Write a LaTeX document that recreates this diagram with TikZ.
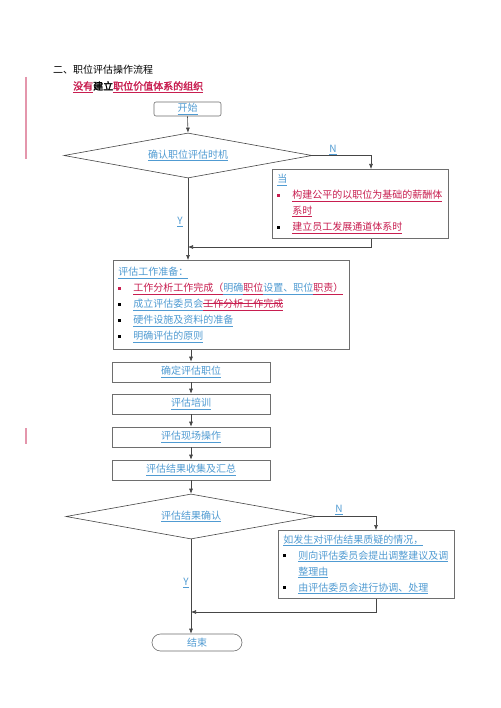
\documentclass[tikz,border=0pt]{standalone}
\usepackage{fontspec}
\setmainfont{Noto Sans CJK SC}[AutoFakeBold=2]
\usetikzlibrary{shapes.geometric,arrows.meta,calc}
\definecolor{cblue}{RGB}{80,155,210}
\definecolor{cred}{RGB}{200,30,80}
\definecolor{cline}{RGB}{70,70,70}
\definecolor{cbox}{RGB}{110,110,110}
\definecolor{cpink}{RGB}{228,150,172}
\newcommand\bu[1]{\textcolor{cblue}{\underline{#1}}}
\newcommand\rd[1]{\textcolor{cred}{\underline{#1}}}
\newcommand\blt[1][black]{\makebox[15pt][l]{\textcolor{#1}{\rule[2pt]{3pt}{3pt}}}}
\newcommand\strk[1]{\setbox0\hbox{#1}\rlap{\rule[3.6pt]{\wd0}{0.5pt}}\box0}
\begin{document}
\begin{tikzpicture}[x=1pt,y=-1pt,
  font=\fontsize{10pt}{16pt}\selectfont,
  box/.style={draw=cbox, line width=0.6pt, rectangle, inner sep=0pt},
  tbox/.style={draw=cbox, line width=0.6pt, rectangle, inner xsep=5pt, inner ysep=3pt, align=left, anchor=north west},
  dia/.style={draw=cline, line width=0.6pt, diamond, inner sep=0pt, aspect=5.5},
  conn/.style={draw=cline, line width=0.6pt},
  arr/.style={conn, -{Latex[length=5pt,width=4pt]}},
  lbl/.style={inner sep=0pt}]
\fill[white] (0,0) rectangle (500,708);
\useasboundingbox (0,0) rectangle (500,708);

% margin marks
\draw[cpink, line width=1.5pt] (26,77) -- (26,159);
\draw[cpink, line width=1.5pt] (26,428) -- (26,444);

% titles
\node[lbl, anchor=west] (t1) at (53,70) {二、职位评估操作流程};
\node[lbl, anchor=west] (t2) at (73,87) {\bfseries\rd{没有}建立\rd{职位价值体系的组织}};

% start
\node[box, rounded corners=2pt, minimum width=67pt, minimum height=14pt] (s) at (187.5,109) {\bu{开始}};

% decision 1
\node[dia, minimum width=248pt, minimum height=45pt] (d1) at (188,155.5) {\bu{确认职位评估时机}};

\node[tbox, minimum width=176pt, minimum height=69pt, text width=166pt] (r1) at (272,169) {%
\bu{当}\\
\blt[cred]\rd{构建公平的以职位为基础的薪酬体}\\
\hspace*{15pt}\rd{系时}\\
\blt\rd{建立员工发展通道体系时}};

\node[lbl] (n1) at (333,150) {\bu{N}};
\node[lbl] (y1) at (180,222) {\bu{Y}};

% preparation
\node[tbox, minimum width=236pt, minimum height=89pt, text width=226pt] (p) at (113,260) {%
\bu{评估工作准备：}\\
\blt[cred]\rd{工作分析工作完成（}\bu{明确}\rd{职位}\bu{设置、职位}\rd{职责）}\\
\blt\bu{成立评估委员会}\textcolor{cred}{\strk{\underline{工作分析工作完成}}}\\
\blt\bu{硬件设施及资料的准备}\\
\blt\bu{明确评估的原则}};

% steps
\node[box, minimum width=158pt, minimum height=20pt] (b2) at (191,372) {\bu{确定评估职位}};
\node[box, minimum width=158pt, minimum height=20pt] (b3) at (191,404) {\bu{评估培训}};
\node[box, minimum width=158pt, minimum height=20pt] (b4) at (191,437) {\bu{评估现场操作}};
\node[box, minimum width=158pt, minimum height=20pt] (b5) at (191,470) {\bu{评估结果收集及汇总}};

% decision 2
\node[dia, minimum width=250pt, minimum height=45pt] (d2) at (191,516.5) {\bu{评估结果确认}};

\node[tbox, minimum width=176pt, minimum height=68pt, text width=166pt] (r2) at (278,530) {%
\bu{如发生对评估结果质疑的情况，}\\
\blt\bu{则向评估委员会提出调整建议及调}\\
\hspace*{15pt}\bu{整理由}\\
\blt\bu{由评估委员会进行协调、处理}};

\node[lbl] (n2) at (339,510) {\bu{N}};
\node[lbl] (y2) at (186,583) {\bu{Y}};

% end
\node[box, rounded corners=8.5pt, minimum width=90pt, minimum height=17pt] (e) at (197,642.5) {\textcolor{cblue}{结束}};

% connectors
\coordinate (m1) at (188,247);
\coordinate (m2) at (191,612);
\draw[arr] (s.south) -- (d1.north);
\draw[arr] (d1.east) -| ($(r1.north west)+(99,0)$);
\draw[arr] ($(r1.south west)+(99,0)$) |- (m1);
\draw[arr] (d1.south) -- (d1.south |- p.north);
\draw[arr] (b2.north |- p.south) -- (b2.north);
\draw[arr] (b2.south) -- (b3.north);
\draw[arr] (b3.south) -- (b4.north);
\draw[arr] (b4.south) -- (b5.north);
\draw[arr] (b5.south) -- (d2.north);
\draw[arr] (d2.east) -| ($(r2.north west)+(98,0)$);
\draw[arr] ($(r2.south west)+(98,0)$) |- (m2);
\draw[arr] (d2.south) -- (d2.south |- e.north);
\end{tikzpicture}
\end{document}
